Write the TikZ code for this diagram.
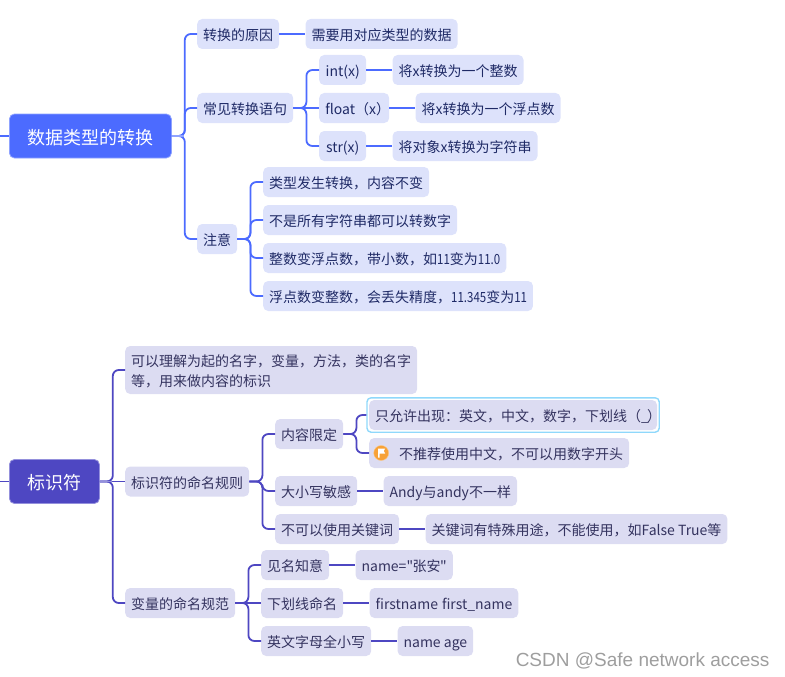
\documentclass[tikz,border=0pt]{standalone}
\usepackage{fontspec}
\newfontfamily\topicfont{Noto Sans CJK SC}
\newfontfamily\numfont[FakeStretch=0.82]{Noto Sans CJK SC}
\newfontfamily\markfont{Liberation Sans}
\usetikzlibrary{positioning, fit}
\definecolor{bluemain}{HTML}{4C6BFF}
\definecolor{blueedge}{HTML}{8FA3FF}
\definecolor{bluefill}{HTML}{DDE2FB}
\definecolor{bluetext}{HTML}{1F2A66}
\definecolor{purplemain}{HTML}{4E47C2}
\definecolor{purpleedge}{HTML}{9490DC}
\definecolor{purplefill}{HTML}{DCDCF2}
\definecolor{purpletext}{HTML}{34335F}
\definecolor{hilite}{HTML}{8FD8FB}
\definecolor{flagorange}{HTML}{F7A136}

\begin{document}
\begin{tikzpicture}[
				x=1pt, y=-1pt,
				rootbox/.style={
					rectangle,
					draw,
					text=white,
					rounded corners=5pt,
					inner xsep=18pt,
					minimum height=44pt,
					text height=17pt,
					text depth=1pt,
					line width=0.8pt,
					font=\topicfont\fontsize{18}{22}\selectfont
				},
				topic/.style={
					rectangle,
					rounded corners=5pt,
					anchor=west,
					inner xsep=6pt,
					inner ysep=4pt,
					minimum height=30pt,
					text height=13.5pt,
					text depth=0.5pt,
					font=\topicfont\fontsize{14}{20}\selectfont
				},
				bluetopic/.style={topic, fill=bluefill, text=bluetext},
				purpletopic/.style={topic, fill=purplefill, text=purpletext},
				bluelink/.style={draw=bluemain, line width=1.8pt, rounded corners=6pt},
				purplelink/.style={draw=purplemain, line width=1.8pt, rounded corners=6pt}
				]
				\useasboundingbox (0,0) rectangle (785,677);
				
				% Upper map: root
				\node[rootbox, fill=bluemain, draw=blueedge, anchor=west] (convert) at (9,136) {数据类型的转换};
				\coordinate (convertin) at (0,136);
				\draw[bluelink] (convertin) -- (convert.west);
				
				% Upper map: first level
				\node[bluetopic] (reason) at (197,34) {转换的原因};
				\node[bluetopic] (statement) at (197,108) {常见转换语句};
				\node[bluetopic] (notice) at (197,239) {注意};
				\foreach \kid in {reason, statement, notice}
					\draw[bluelink] (convert.east) -- ++(13,0) |- (\kid.west);
				\draw[draw=blueedge, line width=1.8pt] (convert.east) -- ++(12,0);
				
				\node[bluetopic, right=26pt of reason] (reasontext) {需要用对应类型的数据};
				\draw[bluelink] (reason) -- (reasontext);
				
				% Upper map: conversion statements
				\node[bluetopic, minimum width=47pt] (intcall) at (319,70) {int(x)};
				\node[bluetopic, minimum width=70pt] (floatcall) at (319,108) {float（x）\kern-7pt};
				\node[bluetopic, minimum width=47pt] (strcall) at (319,146) {str(x)};
				\foreach \kid in {intcall, strcall}
					\draw[bluelink] (statement.east) -- ++(13,0) |- (\kid.west);
				\draw[bluelink] (statement) -- (floatcall);
				
				\node[bluetopic, right=26pt of intcall] (inttext) {将x转换为一个整数};
				\node[bluetopic, right=26pt of floatcall] (floattext) {将x转换为一个浮点数};
				\node[bluetopic, right=26pt of strcall] (strtext) {将对象x转换为字符串};
				\draw[bluelink] (intcall) -- (inttext);
				\draw[bluelink] (floatcall) -- (floattext);
				\draw[bluelink] (strcall) -- (strtext);
				
				% Upper map: notes
				\node[bluetopic] (noteone) at (263,182) {类型发生转换，内容不变};
				\node[bluetopic] (notetwo) at (263,220) {不是所有字符串都可以转数字};
				\node[bluetopic] (notethree) at (263,258) {整数变浮点数，带小数，如{\numfont 11}变为{\numfont 11.0}};
				\node[bluetopic] (notefour) at (263,296) {浮点数变整数，会丢失精度，{\numfont 11.345}变为{\numfont 11}};
				\foreach \kid in {noteone, notetwo, notethree, notefour}
					\draw[bluelink] (notice.east) -- ++(13,0) |- (\kid.west);
				
				% Lower map: root
				\node[rootbox, fill=purplemain, draw=purpleedge, anchor=west] (ident) at (9,481.5) {标识符};
				\coordinate (identin) at (0,481.5);
				\draw[purplelink] (identin) -- (ident.west);
				
				% Lower map: first level
				\node[purpletopic, align=left, minimum height=48pt, text height=34pt, text depth=1pt] (meaning) at (125,370) {可以理解为起的名字，变量，方法，类的名字\\等，用来做内容的标识};
				\node[purpletopic] (rules) at (125,481.5) {标识符的命名规则};
				\node[purpletopic] (habits) at (125,603) {变量的命名规范};
				\foreach \kid in {meaning, habits}
					\draw[purplelink] (ident.east) -- ++(13,0) |- (\kid.west);
				\draw[purplelink] (ident) -- (rules);
				\draw[draw=purpleedge, line width=1.8pt] (ident.east) -- ++(12,0);
				
				% Lower map: naming rules
				\node[purpletopic] (content) at (275,434) {内容限定};
				\node[purpletopic] (casing) at (275,491) {大小写敏感};
				\node[purpletopic] (keyword) at (275,529) {不可以使用关键词};
				\foreach \kid in {content, casing, keyword}
					\draw[purplelink] (rules.east) -- ++(13,0) |- (\kid.west);
				
				\node[purpletopic] (allow) at (369,415) {只允许出现：英文，中文，数字，下划线（\_\kern-2pt）\kern-10pt};
				\node[purpletopic] (avoid) at (369,453) {\hspace*{24pt}不推荐使用中文，不可以用数字开头};
				\node[fit=(allow), draw=hilite, line width=1.4pt, rounded corners=4pt, inner sep=2pt] (allowring) {};
				\foreach \kid in {allowring, avoid}
					\draw[purplelink] (content.east) -- ++(13,0) |- (\kid.west);
				
				% Flag on the second rule
				\node[circle, fill=flagorange, draw=flagorange!60, minimum size=15pt, inner sep=0pt, right=4.5pt of avoid.west] (flagicon) {};
				\fill[white] (flagicon.center) ++(-3,4.5) -- ++(0,-9) -- ++(7,0) -- ++(-1.5,2.5) -- ++(1.5,2.5) -- ++(-5.5,0) -- ++(0,4) -- cycle;
				
				\node[purpletopic, right=26pt of casing] (casingtext) {Andy与andy不一样};
				\node[purpletopic, right=26pt of keyword] (keywordtext) {关键词有特殊用途，不能使用，如False True等};
				\draw[purplelink] (casing) -- (casingtext);
				\draw[purplelink] (keyword) -- (keywordtext);
				
				% Lower map: naming habits
				\node[purpletopic] (clear) at (261,565) {见名知意};
				\node[purpletopic] (under) at (261,603) {下划线命名};
				\node[purpletopic] (lower) at (261,641) {英文字母全小写};
				\foreach \kid in {clear, lower}
					\draw[purplelink] (habits.east) -- ++(13,0) |- (\kid.west);
				\draw[purplelink] (habits) -- (under);
				
				\node[purpletopic, right=26pt of clear] (cleartext) {name="\kern-0.5pt张安\kern-0.5pt"};
				\node[purpletopic, right=26pt of under] (undertext) {firstname\hspace{4pt}first\_name};
				\node[purpletopic, right=26pt of lower] (lowertext) {name age};
				\draw[purplelink] (clear) -- (cleartext);
				\draw[purplelink] (under) -- (undertext);
				\draw[purplelink] (lower) -- (lowertext);
				
				% Watermark
				\node[anchor=east, text=black!38, font=\markfont\fontsize{19}{23}\selectfont] (mark) at (773,661) {CSDN @Safe network access};
				
			\end{tikzpicture}
\end{document}
